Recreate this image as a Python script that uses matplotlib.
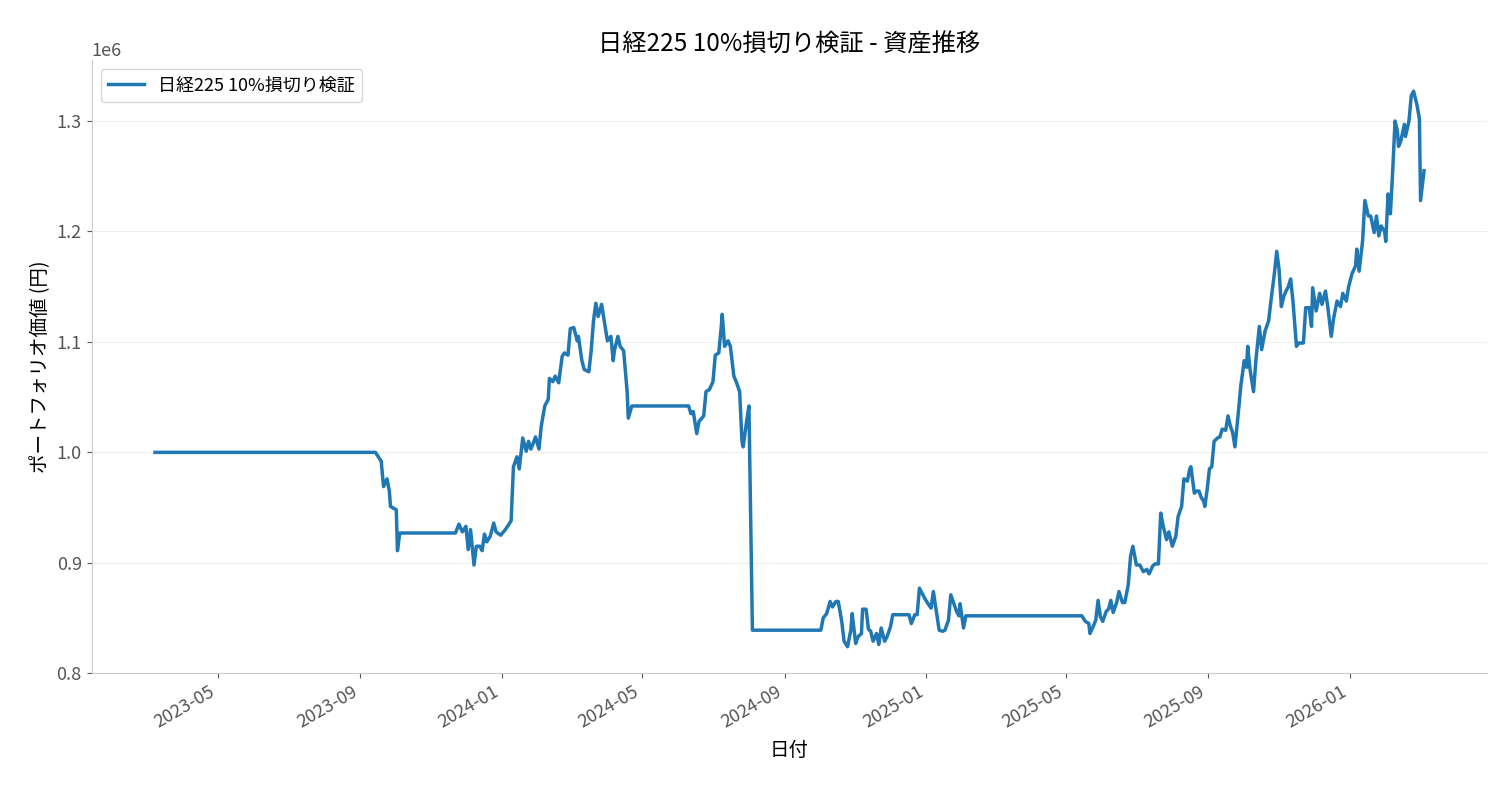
import matplotlib
matplotlib.use("Agg")
import matplotlib.pyplot as plt
import matplotlib.dates as mdates
import numpy as np
import pandas as pd

plt.rcParams['font.family'] = ['Noto Sans CJK JP', 'DejaVu Sans']

start_date = "2023-03-08"
days = [0,190,195,197,200,202,203,208,209,211,259,262,265,268,270,272,275,277,280,282,284,286,289,292,294,298,302,307,309,312,314,317,320,322,324,326,328,331,333,336,339,340,343,345,348,351,353,356,358,361,364,365,368,370,374,376,378,380,382,385,388,390,393,395,396,399,401,404,407,408,411,
        460,462,464,467,469,473,475,478,481,483,486,488,489,491,494,496,499,501,504,506,507,510,512,515,
        574,576,579,582,584,587,589,592,594,597,600,601,604,606,609,610,613,615,617,619,622,624,626,629,631,634,636,
        650,652,655,657,659,662,664,667,669,671,674,676,679,681,684,686,688,691,693,694,697,699,
        799,802,805,806,809,811,813,815,817,820,822,824,826,829,831,834,836,839,841,843,846,849,852,855,857,860,862,865,867,869,872,874,877,880,882,885,887,890,892,893,896,898,900,902,904,905,907,909,911,913,916,918,920,923,925,927,929,931,934,936,939,941,942,944,947,949,952,954,957,960,962,965,967,969,971,973,975,977,979,981,984,986,990,992,995,997,998,1001,1004,1006,1009,1011,1014,1016,1019,1022,1024,1027,1029,1032,1035,1036,1038,1041,1043,1046,1048,1051,1053,1055,1057,1060,1061,1063,1065,1067,1069,1071,1072,1074,1077,1078,1081,1083,1085,1088,1090,1091,1094]
value_k = [1000,1000,992,969,976,965,951,948,911,927,927,935,928,933,912,930,898,915,915,911,926,919,924,936,928,925,930,938,987,996,985,1013,1001,1010,1003,1008,1014,1003,1024,1042,1048,1067,1064,1069,1063,1087,1090,1088,1112,1113,1101,1105,1083,1075,1073,1092,1119,1135,1123,1134,1114,1101,1105,1083,1092,1105,1096,1092,1055,1031,1042,
           1042,1035,1037,1017,1028,1033,1055,1057,1064,1088,1090,1112,1125,1096,1101,1096,1069,1064,1055,1010,1005,1028,1042,839,
           839,850,854,865,860,865,865,847,829,824,840,854,827,833,836,858,858,840,838,829,836,826,841,829,833,842,853,
           853,845,853,853,877,871,867,862,859,874,853,839,838,839,848,871,865,856,852,863,841,852,
           852,847,845,836,843,848,866,851,847,856,858,866,855,864,874,864,864,880,906,915,898,898,892,894,890,897,899,899,945,934,921,928,915,924,942,951,976,974,985,987,963,965,965,959,956,951,966,985,987,1010,1013,1014,1021,1020,1033,1024,1018,1005,1037,1060,1083,1077,1096,1075,1055,1083,1114,1093,1110,1119,1137,1162,1182,1166,1132,1141,1146,1150,1157,1137,1096,1099,1099,1131,1131,1114,1149,1128,1144,1134,1146,1132,1105,1121,1137,1132,1144,1137,1150,1162,1169,1184,1164,1191,1228,1214,1214,1199,1214,1196,1205,1200,1191,1234,1216,1255,1300,1291,1277,1282,1297,1286,1300,1323,1327,1314,1302,1228,1255]

dates = pd.Timestamp(start_date) + pd.to_timedelta(days, unit="D")
values = np.array(value_k) * 1000.0

fig, ax = plt.subplots(figsize=(15.01, 7.93), dpi=100)
fig.subplots_adjust(left=0.061, right=0.991, top=0.924, bottom=0.151)
ax.plot(dates, values, color="#1f77b4", lw=2.5, label="日経225 10%損切り検証")
ax.set_title("日経225 10%損切り検証 - 資産推移", fontsize=17.5)
ax.set_xlabel("日付", fontsize=14, labelpad=6)
ax.set_ylabel("ポートフォリオ価値 (円)", fontsize=14)
ax.set_ylim(0.8e6, 1.355e6)
ax.set_yticks([0.8e6, 0.9e6, 1.0e6, 1.1e6, 1.2e6, 1.3e6])
ax.grid(axis="y", color="#eeeeee", lw=0.8)
ax.set_axisbelow(True)
ax.xaxis.set_major_locator(mdates.MonthLocator(bymonth=[1, 5, 9]))
ax.xaxis.set_major_formatter(mdates.DateFormatter("%Y-%m"))
plt.setp(ax.get_xticklabels(), rotation=30, ha="right")
for s in ["top", "right"]:
    ax.spines[s].set_visible(False)
for s in ["left", "bottom"]:
    ax.spines[s].set_color("#cccccc")
ax.tick_params(colors="#555555", labelsize=13)
ax.yaxis.get_offset_text().set_color("#555555")
ax.yaxis.get_offset_text().set_fontsize(13)
ax.legend(loc="upper left", fontsize=13)
fig.savefig("out.png")
